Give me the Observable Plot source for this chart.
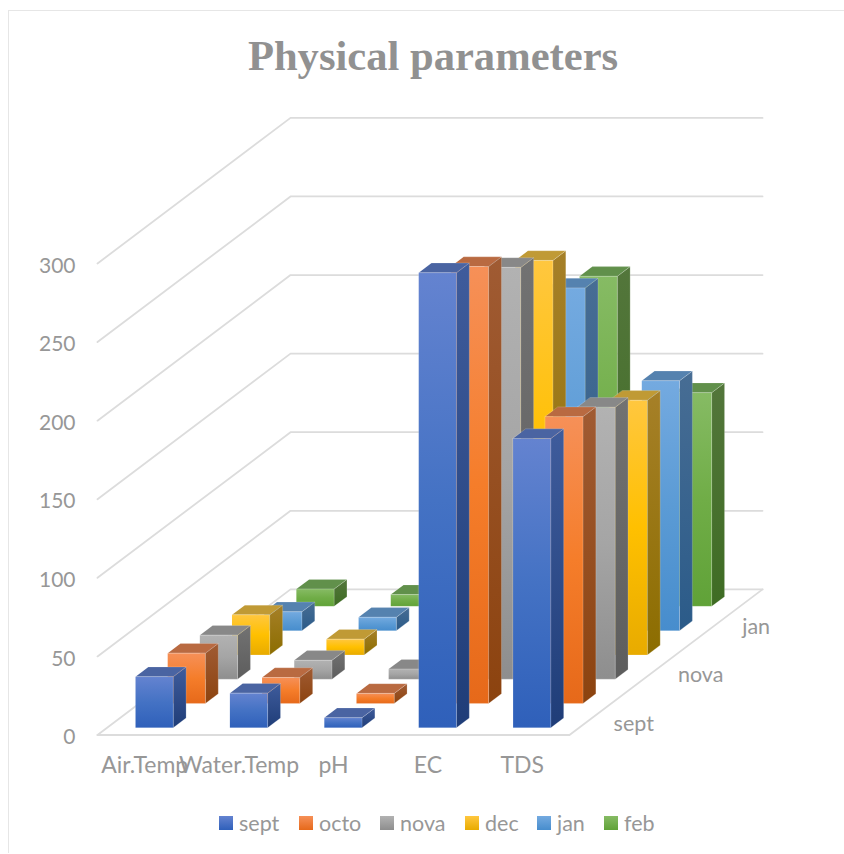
<!DOCTYPE html>
<html>
<head>
<meta charset="utf-8">
<script src="https://cdn.jsdelivr.net/npm/d3@7"></script>
<script src="https://cdn.jsdelivr.net/npm/@observablehq/plot@0.6"></script>
<style>
  html, body { margin: 0; padding: 0; background: #fff; overflow: hidden; }
  #frame { position: absolute; left: 8px; top: 10px; width: 900px; height: 843px;
           border: 1px solid #e6e6e6; border-bottom: none; box-sizing: border-box; }
  #title { position: absolute; left: 11px; top: 33px; width: 844px; text-align: center;
           font: bold 42.6px "Liberation Serif", serif; color: #919191; line-height: 46px; white-space: nowrap; }
  #chart { position: absolute; left: 0; top: 95px; }
  #legend { position: absolute; left: 219px; top: 807px; height: 32px; font: 21.5px Lato, sans-serif; color: #979797; }
  #legend .sw { width: 14px; height: 14px; margin-right: 6px; }
  #legend .it { display: flex; align-items: center; position: absolute; top: 0; height: 32px; white-space: nowrap; }
</style>
</head>
<body>
<div id="frame"></div>
<div id="title">Physical parameters</div>
<div id="chart"></div>
<div id="legend"></div>
<script>
// Monthly readings per physical parameter
const categories = ["Air.Temp", "Water.Temp", "pH", "EC", "TDS"];
const months = ["sept", "octo", "nova", "dec", "jan", "feb"];
const depthLabels = ["sept", "nova", "jan"];
const yTicks = [0, 50, 100, 150, 200, 250, 300];

const sept = [32.5, 22, 6.4, 289.5, 184];
const octo = [32, 16.5, 6.4, 278, 182.5];
const nova = [28, 12, 6.4, 262, 173];
const dec = [25.5, 10, 6.4, 251, 162];
const jan = [12, 8.5, 6.4, 218, 159];
const feb = [11, 7.5, 6.4, 210, 136];
const series = [sept, octo, nova, dec, jan, feb];

// Gradient stops and shaded face colours per month: [front top, mid, bottom, side top, side bottom, cap]
const palette = {
  sept: ["#6483d0", "#4472c4", "#2f60ba", "#3f5c9c", "#1f3d78", "#4a64a2"],
  octo: ["#f69058", "#f57d2a", "#e6691a", "#a05b33", "#8c430f", "#b96a41"],
  nova: ["#b2b2b2", "#a5a5a5", "#8e8e8e", "#727272", "#5d5d5d", "#888888"],
  dec:  ["#ffc73f", "#ffc000", "#e8ab00", "#a68028", "#8c6d00", "#c09a35"],
  jan:  ["#74aae0", "#5b9bd5", "#478dcd", "#476d94", "#2b5b89", "#5582af"],
  feb:  ["#86bb64", "#70ad47", "#60a238", "#53763b", "#3e6c23", "#61904b"]
};

// Oblique 3D projection: going one month back shifts a point right and up
const depthX = 32.17 / 94.4;     // in category units per month
const depthY = 24.27 / 1.5717;   // in value units per month
const project = (c, s, v) => ({x: c + s * depthX, y: v + s * depthY});
const nDepth = months.length;
const barLo = 0.3, barHi = 0.7;

// Walls and floor of the plot box
const gridLines = [];
yTicks.forEach((t) => {
  gridLines.push({k: "wall" + t, ...project(0, 0, t)}, {k: "wall" + t, ...project(0, nDepth, t)}, {k: "wall" + t, ...project(5, nDepth, t)});
});
gridLines.push(
  {k: "floor", ...project(0, 0, 0)}, {k: "floor", ...project(5, 0, 0)}, {k: "floor", ...project(5, nDepth, 0)}
);

// Painter's order: back months first, left to right
const barMarks = [];
const poly = (pts, fill) => Plot.line(pts, {
  x: "x", y: "y", fill, stroke: "#ffffff", strokeOpacity: 0.18, strokeWidth: 1, curve: "linear-closed"
});
for (let s = nDepth - 1; s >= 0; --s) {
  const m = months[s];
  categories.forEach((_, c) => {
    const v = series[s][c];
    const c0 = c + barLo, c1 = c + barHi, s0 = s + barLo, s1 = s + barHi;
    barMarks.push(
      poly([project(c1, s0, 0), project(c1, s1, 0), project(c1, s1, v), project(c1, s0, v)], `url(#side-${m})`),
      poly([project(c0, s0, v), project(c1, s0, v), project(c1, s1, v), project(c0, s1, v)], palette[m][5]),
      poly([project(c0, s0, 0), project(c1, s0, 0), project(c1, s0, v), project(c0, s0, v)], `url(#front-${m})`)
    );
  });
}

// Vertical gradients used by the bar faces
function gradients() {
  const defs = d3.create("svg:defs");
  const add = (id, stops) => {
    const g = defs.append("linearGradient").attr("id", id).attr("x1", 0).attr("y1", 0).attr("x2", 0).attr("y2", 1);
    stops.forEach((c, i) => g.append("stop").attr("offset", i / (stops.length - 1)).attr("stop-color", c));
  };
  months.forEach((m) => {
    const p = palette[m];
    add(`front-${m}`, [p[0], p[1], p[2]]);
    add(`side-${m}`, [p[3], p[4]]);
  });
  return defs.node();
}

const textFont = "Lato, sans-serif";
const textColor = "#979797";

const plot = Plot.plot({
  width: 844,
  height: 700,
  marginLeft: 97, marginRight: 0, marginTop: 0, marginBottom: 0,
  style: {background: "transparent", overflow: "visible"},
  x: {domain: [0, 5], range: [97, 569], axis: null},
  y: {domain: [0, 300], range: [639.5, 168]},
  marks: [
    gradients,
    Plot.line(gridLines, {x: "x", y: "y", z: "k", stroke: "#dcdcdc", strokeWidth: 1.8}),
    ...barMarks,
    Plot.axisY(yTicks, {
      anchor: "left", label: null, tickSize: 0, tickPadding: 22, tickFormat: (d) => String(d), dy: 2.5,
      fontSize: 21, fontFamily: textFont, fill: textColor, stroke: null, color: textColor
    }),
    Plot.text(categories, {
      x: (_, i) => i + 0.5, y: 0, text: (d) => d, dy: 31,
      fontSize: 23, fontFamily: textFont, fill: textColor
    }),
    Plot.text(depthLabels, {
      x: (d) => project(5, months.indexOf(d) + 0.5, 0).x,
      y: (d) => project(5, months.indexOf(d) + 0.5, 0).y,
      text: (d) => d, textAnchor: "start", dx: 28, dy: 1,
      fontSize: 21.5, fontFamily: textFont, fill: textColor
    })
  ]
});
document.getElementById("chart").append(plot);

// Legend: one gradient swatch and a month name for each series
const legendLeft = [0, 80, 161, 246, 318, 385];
const legend = d3.select("#legend");
months.forEach((m, i) => {
  const it = legend.append("div").attr("class", "it").style("left", legendLeft[i] + "px");
  it.append("div").attr("class", "sw")
    .style("background", `linear-gradient(${palette[m][0]}, ${palette[m][2]})`);
  it.append("span").text(m);
});
</script>
</body>
</html>
